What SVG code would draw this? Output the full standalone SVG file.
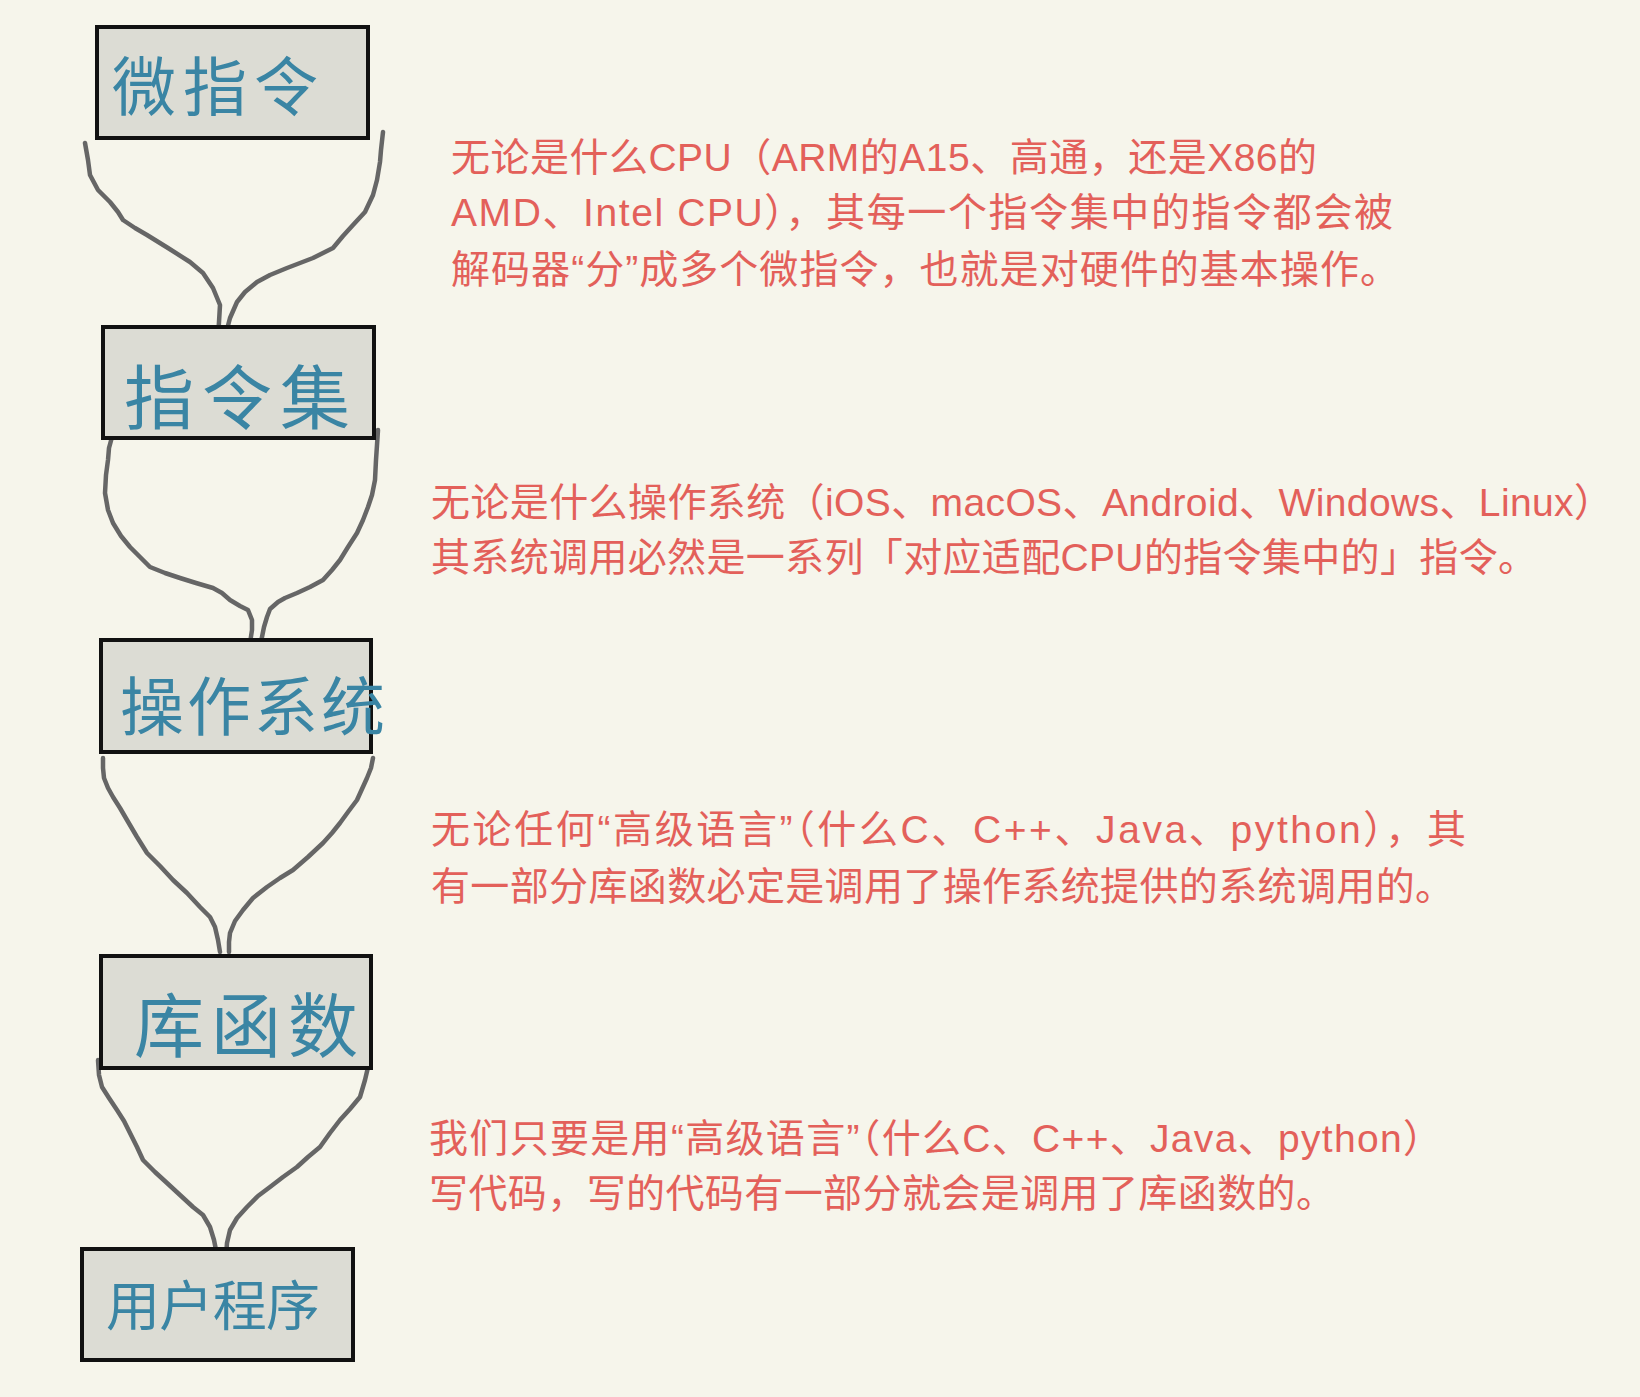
<svg xmlns="http://www.w3.org/2000/svg" width="1640" height="1397" viewBox="0 0 1640 1397">
<style>
.box{fill:#dcdcd4;stroke:#111;stroke-width:4}
.hand{font-family:"Noto Sans CJK SC","Noto Sans CJK JP",sans-serif;font-weight:400;fill:#3a85a4}
.wire{fill:none;stroke:#666;stroke-width:4.5;stroke-linecap:round;stroke-linejoin:round}
.note{font-family:"Liberation Sans","Noto Sans CJK SC",sans-serif;font-size:39px;fill:#e3605a}
</style>
<rect width="1640" height="1397" fill="#f6f5eb"/>
<g id="connectors">
<path class="wire" d="M85,143 L88,160 90,175 98,190 110,202 118,212 123,220 135,228 147,235 168,248 190,262 203,273 213,288 220,305 219,322 218,337"/>
<path class="wire" d="M383,132 L381,150 380,162 377,180 373,195 365,212 353,225 343,236 333,248 313,258 287,268 270,275 257,282 245,292 237,302 230,318 225,337"/>
<path class="wire" d="M112,437 L109,448 108,460 106,475 105,493 108,510 113,523 121,536 130,547 140,557 150,567 165,573 180,578 196,583 213,588 222,593 230,600 240,606 248,610 252,620 252,630 250,643 246,653"/>
<path class="wire" d="M378,430 L377,445 376,460 375,480 372,495 368,507 363,520 357,533 348,547 340,560 332,570 323,580 310,587 297,593 285,598 278,602 270,609 267,617 264,627 262,637 260,646 257,655"/>
<path class="wire" d="M103,758 L103,768 104,778 108,788 113,797 120,808 127,820 137,837 147,853 160,866 173,880 187,893 200,907 210,917 215,927 218,940 220,952"/>
<path class="wire" d="M373,758 L371,768 367,778 362,789 357,800 348,812 340,823 332,833 323,843 308,857 293,870 280,878 267,887 253,898 243,910 235,921 230,933 229,942 229,952"/>
<path class="wire" d="M98,1060 L99,1075 102,1087 109,1098 117,1110 124,1121 130,1133 137,1147 143,1160 155,1172 167,1183 180,1195 193,1207 203,1215 210,1227 214,1240 217,1255"/>
<path class="wire" d="M369,1063 L365,1080 360,1097 350,1109 340,1120 330,1133 320,1147 308,1157 297,1167 283,1177 270,1187 258,1196 247,1207 237,1218 230,1230 227,1243 226,1256"/>
</g>
<g id="node-micro">
<rect class="box" x="97" y="27" width="271" height="111"/>
<text class="hand" x="112" y="110" font-size="64" textLength="206" lengthAdjust="spacing">微指令</text>
</g>
<g id="node-isa">
<rect class="box" x="103" y="327" width="271" height="111"/>
<text class="hand" x="124" y="424" font-size="70" textLength="226" lengthAdjust="spacing">指令集</text>
</g>
<g id="node-os">
<rect class="box" x="101" y="640" width="270" height="112"/>
<text class="hand" x="120" y="730" font-size="64" textLength="265" lengthAdjust="spacing">操作系统</text>
</g>
<g id="node-lib">
<rect class="box" x="101" y="956" width="270" height="112"/>
<text class="hand" x="134" y="1052" font-size="70" textLength="224" lengthAdjust="spacing">库函数</text>
</g>
<g id="node-user">
<rect class="box" x="82" y="1249" width="271" height="111"/>
<text class="hand" x="106" y="1326" font-size="54" textLength="214" lengthAdjust="spacing">用户程序</text>
</g>
<g id="notes">
<text class="note" x="451" y="171" textLength="866" lengthAdjust="spacing">无论是什么CPU（ARM的A15、高通，还是X86的</text>
<text class="note" x="451" y="226" textLength="942" lengthAdjust="spacing">AMD、Intel CPU），其每一个指令集中的指令都会被</text>
<text class="note" x="451" y="283" textLength="948" lengthAdjust="spacing">解码器“分”成多个微指令，也就是对硬件的基本操作。</text>
<text class="note" x="431" y="516" textLength="1182" lengthAdjust="spacing">无论是什么操作系统（iOS、macOS、Android、Windows、Linux）</text>
<text class="note" x="431" y="571" textLength="1106" lengthAdjust="spacing">其系统调用必然是一系列「对应适配CPU的指令集中的」指令。</text>
<text class="note" x="431" y="843" textLength="1035" lengthAdjust="spacing">无论任何“高级语言”（什么C、C++、Java、python），其</text>
<text class="note" x="431" y="900" textLength="1023" lengthAdjust="spacing">有一部分库函数必定是调用了操作系统提供的系统调用的。</text>
<text class="note" x="429" y="1152" textLength="1013" lengthAdjust="spacing">我们只要是用“高级语言”（什么C、C++、Java、python）</text>
<text class="note" x="429" y="1207" textLength="906" lengthAdjust="spacing">写代码，写的代码有一部分就会是调用了库函数的。</text>
</g>
</svg>
